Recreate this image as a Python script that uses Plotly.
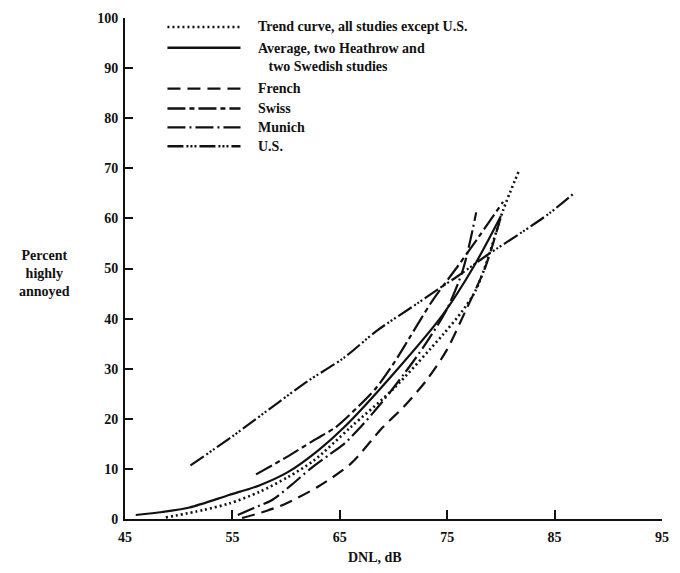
import plotly.graph_objects as go

# ---- data (DNL in dB, percent highly annoyed) ----
trend_x = [48.8, 52.3, 54.7, 57.5, 60.2, 62.6, 66.0, 70.0, 74.6, 76.4, 77.6, 78.7, 80.2, 81.7]
trend_y = [0.3, 1.8, 3.1, 5.4, 8.4, 11.7, 18.3, 26.0, 36.8, 41.5, 45.4, 51.4, 61.6, 69.6]

avg_x = [46.0, 48.5, 51.0, 54.7, 57.5, 60.2, 63.0, 65.4, 70.0, 74.6, 77.5, 80.0]
avg_y = [0.8, 1.4, 2.3, 4.8, 6.7, 9.4, 13.7, 18.3, 29.0, 40.8, 50.5, 60.5]

french_x = [55.9, 58.0, 60.0, 63.0, 66.0, 69.0, 71.0, 73.0, 74.9, 76.7, 78.5, 80.0]
french_y = [0.2, 1.5, 3.1, 6.5, 11.0, 18.3, 22.5, 27.5, 33.5, 41.5, 50.0, 60.3]

swiss_x = [57.2, 60.0, 62.5, 64.6, 66.5, 68.4, 70.0, 71.5, 73.6, 76.0, 78.0, 80.2]
swiss_y = [8.9, 12.3, 15.6, 18.3, 22.0, 26.2, 31.0, 36.2, 43.5, 50.5, 56.5, 63.3]

munich_x = [55.5, 57.0, 58.7, 60.5, 62.3, 64.0, 65.4, 67.0, 69.0, 71.0, 73.0, 75.0, 76.5, 77.7]
munich_y = [0.8, 2.2, 3.8, 6.8, 10.1, 12.8, 15.0, 18.5, 23.5, 29.0, 35.0, 42.0, 50.0, 61.2]

us_x = [51.1, 55.0, 59.3, 62.0, 65.4, 68.4, 72.2, 74.1, 76.0, 78.8, 82.0, 84.5, 86.8]
us_y = [10.7, 16.5, 23.3, 27.5, 32.2, 37.5, 43.0, 45.8, 48.5, 52.8, 57.3, 61.0, 65.0]

x_ticks = [45, 55, 65, 75, 85, 95]
y_ticks = [0, 10, 20, 30, 40, 50, 60, 70, 80, 90, 100]

legend_labels = [
    "Trend curve, all studies except U.S.",
    "Average, two Heathrow and<br>   two Swedish studies",
    "French",
    "Swiss",
    "Munich",
    "U.S.",
]

# ---- styling ----
W, H = 680, 573
L, R, T, B = 125, 11, 15, 54
FONT = "Liberation Serif"
INK = "#111111"

dashes = {
    "trend": "2px,3px",
    "avg": "solid",
    "french": "13px,7px",
    "swiss": "18px,4px,5px,4px",
    "munich": "18px,4px,2px,4px",
    "us": "16px,3px,2px,2px,2px,2px,2px,3px",
}

series = [
    ("trend", trend_x, trend_y),
    ("avg", avg_x, avg_y),
    ("french", french_x, french_y),
    ("swiss", swiss_x, swiss_y),
    ("munich", munich_x, munich_y),
    ("us", us_x, us_y),
]

fig = go.Figure()
for key, xs, ys in series:
    fig.add_trace(go.Scatter(
        x=xs, y=ys, mode="lines",
        line=dict(color=INK, width=2.2 if key != "trend" else 2.6, dash=dashes[key], shape="spline", smoothing=0.8),
        showlegend=False, hoverinfo="skip",
    ))

pw, ph = W - L - R, H - T - B


def px2paper(px, py):
    return (px - L) / pw, (H - B - py) / ph


# manual legend (sample line + text)
rows_py = [24, 45, 86, 106, 125, 144]
keys = ["trend", "avg", "french", "swiss", "munich", "us"]
for key, py, lab in zip(keys, rows_py, legend_labels):
    x0, y0 = px2paper(168, py)
    x1, _ = px2paper(242, py)
    fig.add_shape(type="line", xref="paper", yref="paper", x0=x0, x1=x1, y0=y0, y1=y0,
                  line=dict(color=INK, width=2.4 if key != "trend" else 2.6, dash=dashes[key]))
    tx, _ = px2paper(258, py)
    fig.add_annotation(xref="paper", yref="paper", x=tx, y=y0, text="<b>" + lab + "</b>", showarrow=False,
                       xanchor="left", yanchor="top" if key == "avg" else "middle",
                       yshift=9 if key == "avg" else 0, align="left",
                       font=dict(family=FONT, size=14, color=INK))

# axis titles
ax, ay = px2paper(378, 558)
fig.add_annotation(xref="paper", yref="paper", x=ax, y=ay, text="<b>DNL, dB</b>", showarrow=False,
                   xanchor="center", yanchor="middle", font=dict(family=FONT, size=14, color=INK))
yx, yy = px2paper(43, 272)
fig.add_annotation(xref="paper", yref="paper", x=yx, y=yy, text="<b>Percent<br>highly<br>annoyed</b>",
                   showarrow=False, xanchor="center", yanchor="middle", align="center",
                   font=dict(family=FONT, size=14, color=INK))

fig.update_layout(
    width=W, height=H,
    margin=dict(l=L, r=R, t=T, b=B, pad=0),
    paper_bgcolor="white", plot_bgcolor="white",
    showlegend=False,
    xaxis=dict(range=[45, 95], tickvals=x_ticks, ticktext=["<b>%d</b>" % v for v in x_ticks],
               ticks="inside", ticklen=9, tickwidth=2, ticklabelstandoff=4,
               tickcolor=INK, showline=True, linewidth=2, linecolor=INK, showgrid=False,
               zeroline=False, tickfont=dict(family=FONT, size=14, color=INK)),
    yaxis=dict(range=[0, 100], tickvals=y_ticks, ticktext=["<b>%d</b>" % v for v in y_ticks],
               ticks="inside", ticklen=8, tickwidth=2, ticklabelstandoff=2,
               tickcolor=INK, showline=True, linewidth=2, linecolor=INK, showgrid=False,
               zeroline=False, tickfont=dict(family=FONT, size=14, color=INK)),
)

fig.write_html("out.html", config={"displayModeBar": False},
               post_script="document.body.style.margin='0';")
